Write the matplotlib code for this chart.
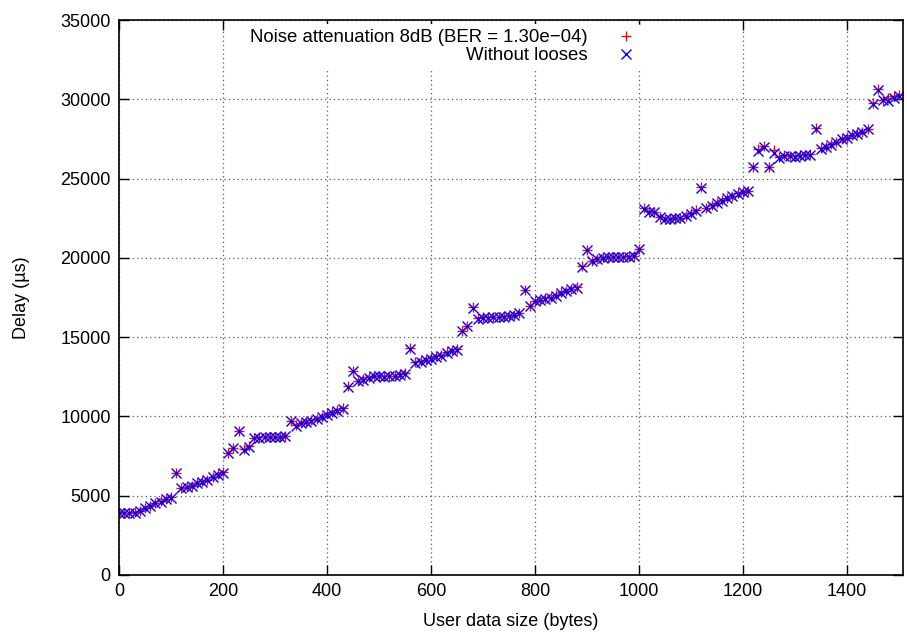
import matplotlib
matplotlib.use("Agg")
import matplotlib.pyplot as plt
import numpy as np

plt.rcParams['font.family'] = ['Liberation Sans', 'DejaVu Sans']

sizes = list(range(0, 1501, 10))

delay_noloss = [
    3930, 3890, 3890, 3930, 4030, 4200, 4350, 4520, 4620, 4770,
    4880, 6420, 5470, 5530, 5610, 5780, 5890, 5990, 6160, 6310,
    6460, 7680, 8000, 9050, 7900, 8100, 8630, 8650, 8680, 8680,
    8700, 8700, 8750, 9680, 9400, 9580, 9620, 9730, 9820, 9950,
    10100, 10220, 10350, 10480, 11860, 12850, 12220, 12320, 12450, 12530,
    12530, 12490, 12530, 12530, 12640, 12700, 14280, 13380, 13440, 13550,
    13630, 13760, 13840, 14010, 14120, 14220, 15380, 15700, 16860, 16160,
    16230, 16230, 16270, 16270, 16290, 16330, 16370, 16500, 17950, 16950,
    17280, 17340, 17430, 17490, 17600, 17810, 17910, 18020, 18130, 19450,
    20480, 19800, 19920, 20020, 20040, 20040, 20040, 20040, 20060, 20100,
    20550, 23100, 22910, 22870, 22560, 22450, 22450, 22510, 22510, 22620,
    22770, 22970, 24410, 23130, 23290, 23460, 23610, 23760, 23880, 24030,
    24140, 24200, 25720, 26750, 26990, 25720, 26630, 26290, 26420, 26400,
    26360, 26420, 26460, 26500, 28150, 26880, 26990, 27130, 27300, 27470,
    27550, 27720, 27830, 27930, 28100, 29730, 30600, 29940, 29880, 30090,
    30230,
]

delay_noise = [
    3950, 3900, 3920, 3950, 4060, 4230, 4380, 4550, 4650, 4800,
    4900, 6450, 5500, 5560, 5640, 5810, 5920, 6020, 6190, 6340,
    6490, 7710, 8030, 9080, 7930, 8130, 8660, 8680, 8710, 8710,
    8730, 8730, 8780, 9710, 9430, 9610, 9650, 9760, 9850, 9980,
    10130, 10250, 10380, 10510, 11890, 12880, 12250, 12350, 12480, 12560,
    12560, 12520, 12560, 12560, 12670, 12730, 14310, 13410, 13470, 13580,
    13660, 13790, 13870, 14040, 14150, 14250, 15410, 15730, 16890, 16190,
    16260, 16260, 16300, 16300, 16320, 16360, 16400, 16530, 17980, 16980,
    17310, 17370, 17460, 17520, 17630, 17840, 17940, 18050, 18160, 19480,
    20510, 19830, 19950, 20050, 20070, 20070, 20070, 20070, 20090, 20130,
    20580, 23130, 22940, 22900, 22590, 22480, 22480, 22540, 22540, 22650,
    22800, 23000, 24440, 23160, 23320, 23490, 23640, 23790, 23910, 24060,
    24170, 24230, 25750, 26850, 27050, 25750, 26800, 26350, 26500, 26450,
    26400, 26460, 26500, 26540, 28180, 26910, 27020, 27160, 27330, 27500,
    27580, 27750, 27860, 27960, 28130, 29760, 30630, 29970, 30050, 30200,
    30260,
]

label_noise = "Noise attenuation 8dB (BER = 1.30e\u221204)"
label_noloss = "Without looses"

fig = plt.figure(figsize=(9.07, 6.35), dpi=100)
ax = fig.add_axes([0.1312, 0.0945, 0.8644, 0.874])

ax.plot(sizes, delay_noise, linestyle='none', marker='+', color='#ff0000',
        markersize=7, markeredgewidth=1.0, label=label_noise)
ax.plot(sizes, delay_noloss, linestyle='none', marker='x', color='#0000ff',
        markersize=6.5, markeredgewidth=1.0, label=label_noloss)

ax.set_xlim(0, 1508)
ax.set_ylim(0, 35000)
ax.set_xticks(range(0, 1401, 200))
ax.set_yticks(range(0, 35001, 5000))

ax.grid(True, color='0.35', linestyle=(0, (1, 2.5)), linewidth=0.9)
ax.set_axisbelow(True)
ax.tick_params(direction='in', length=7, width=1, top=True, right=True,
               labelsize=13, pad=6)
for s in ax.spines.values():
    s.set_linewidth(1.2)

ax.set_xlabel("User data size (bytes)", fontsize=13, labelpad=9)
ax.set_ylabel("Delay (\u00b5s)", fontsize=13, labelpad=22)

leg = ax.legend(loc='upper right', bbox_to_anchor=(0.67, 1.0), markerfirst=False,
                frameon=True, fontsize=13.4, handlelength=1.0, handletextpad=1.57,
                borderpad=0.3, labelspacing=0.05, borderaxespad=0.2)
leg.get_frame().set_facecolor('white')
leg.get_frame().set_edgecolor('none')
leg.get_frame().set_alpha(1.0)
for t in leg.get_texts():
    t.set_ha('right')

fig.savefig("out.png", dpi=100)
